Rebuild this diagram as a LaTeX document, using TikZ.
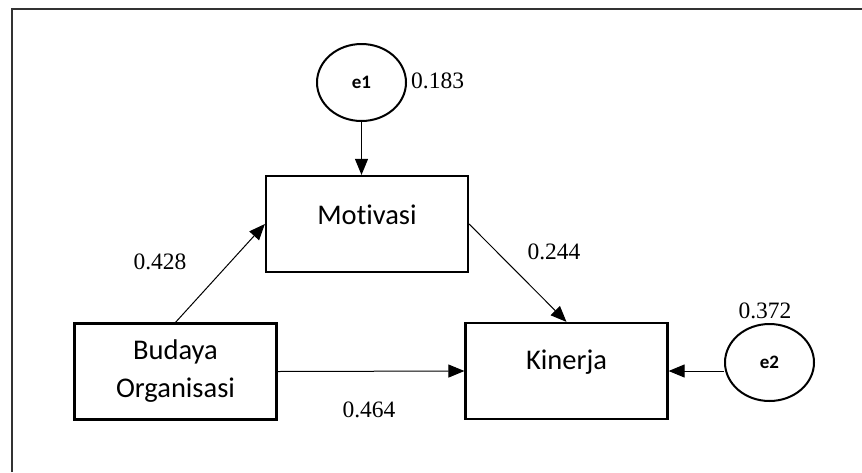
\documentclass[tikz,border=0pt]{standalone}
\usepackage{fontspec}
\setmainfont{Liberation Serif}
\newfontfamily\boxfont[Ligatures={NoCommon,NoContextual}]{Carlito}
\usepackage{tikz}
\usetikzlibrary{arrows.meta,shapes.geometric,positioning,calc}

\begin{document}
\begin{tikzpicture}[
    x=1pt, y=-1pt,
    varbox/.style={rectangle, draw=black, line width=2.2pt, inner sep=0pt,
                   minimum width=202pt, minimum height=96pt, align=center,
                   font=\boxfont\fontsize{28.5}{38}\selectfont},
    errnode/.style={ellipse, draw=black, line width=2pt, inner sep=0pt,
                   minimum width=89pt, minimum height=77pt,
                   font=\boxfont\bfseries\fontsize{19}{22}\selectfont},
    coef/.style={inner sep=0pt, font=\fontsize{23.5}{26}\selectfont},
    arrow/.style={-{Triangle[length=16pt,width=13pt]}, line width=1pt}
]
\useasboundingbox (0,0) rectangle (862,472);

% Frame
\draw[line width=1.5pt, black!80] (12,472) -- (12,9) -- (862,9);

% Nodes
\node[varbox] (M) at (367,224) {\raisebox{9pt}[\height][\depth]{Motivasi}};
\node[varbox] (B) at (175.5,371.5) {Budaya\\Organisasi};
\node[varbox] (K) at (566.5,371) {\raisebox{9pt}[\height][\depth]{Kinerja}};
\node[errnode] (e1) at (361.5,82.5) {e1};
\node[errnode] (e2) at (769.5,362.5) {e2};

% Arrows
\draw[arrow] (e1) -- (e1 |- M.north);
\draw[arrow] (B.north) -- (M.west);
\draw[arrow] (M.east) -- (K.north);
\draw[arrow] (B.east) -- (K.west);
\draw[arrow] (K.east -| e2.west) -- (K.east);

% Labels
\node[coef, right=4pt of e1, yshift=2pt] (l1) {0.183};
\node[coef] (l2) at (765,311) {0.372};
\node[coef] (l3) at (160,262) {0.428};
\node[coef] (l4) at (554,252) {0.244};
\node[coef] (l5) at (369,410) {0.464};

\end{tikzpicture}
\end{document}
